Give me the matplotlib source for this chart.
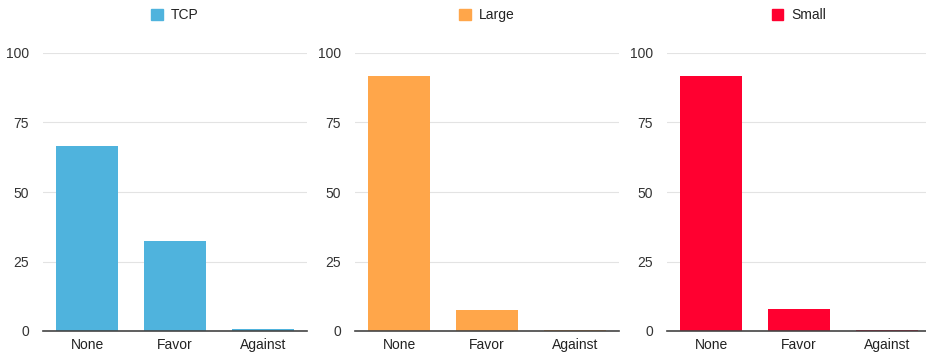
import matplotlib
matplotlib.use("Agg")
import matplotlib.pyplot as plt
from matplotlib.patches import Patch

plt.rcParams['font.family'] = ['Liberation Sans', 'DejaVu Sans']

categories = ["None", "Favor", "Against"]
series_names = ["TCP", "Large", "Small"]
tcp = [66.7, 32.5, 0.8]
large = [91.7, 7.5, 0.3]
small = [91.7, 7.8, 0.3]
colors = ["#4FB3DD", "#FFA64A", "#FF0030"]
yticks = [0, 25, 50, 75, 100]

data = [tcp, large, small]

W, H = 926, 352
fig = plt.figure(figsize=(W / 100, H / 100), dpi=100)

lefts = [43, 355, 667]
aw = 264
top_px, bot_px = 53, 331

for i, (name, vals, col) in enumerate(zip(series_names, data, colors)):
    ax = fig.add_axes([lefts[i] / W, 1 - bot_px / H, aw / W, (bot_px - top_px) / H])
    x = range(len(categories))
    ax.bar(x, vals, width=0.71, color=col, zorder=3)
    ax.set_xlim(-0.5, len(categories) - 0.5)
    ax.set_ylim(0, 100)
    ax.set_yticks(yticks)
    ax.set_yticklabels([str(t) for t in yticks], fontsize=10, color="#333333")
    ax.set_xticks(list(x))
    ax.set_xticklabels(categories, fontsize=10, color="#222222")
    ax.tick_params(axis='y', length=0, pad=10)
    ax.tick_params(axis='x', length=0, pad=5)
    ax.grid(axis='y', color="#e3e3e3", linewidth=0.8, zorder=0)
    ax.set_axisbelow(True)
    for s in ["top", "right", "left"]:
        ax.spines[s].set_visible(False)
    ax.spines["bottom"].set_color("#444444")
    ax.spines["bottom"].set_linewidth(1.2)
    ax.spines["bottom"].set_zorder(4)
    leg = ax.legend(handles=[Patch(color=col, label=name)], loc='lower center',
                    bbox_to_anchor=(0.5, 1.065), frameon=False, fontsize=10,
                    handlelength=0.8, handleheight=0.8, handletextpad=0.6)
    for t in leg.get_texts():
        t.set_color("#222222")

fig.savefig("out.png", dpi=100)
